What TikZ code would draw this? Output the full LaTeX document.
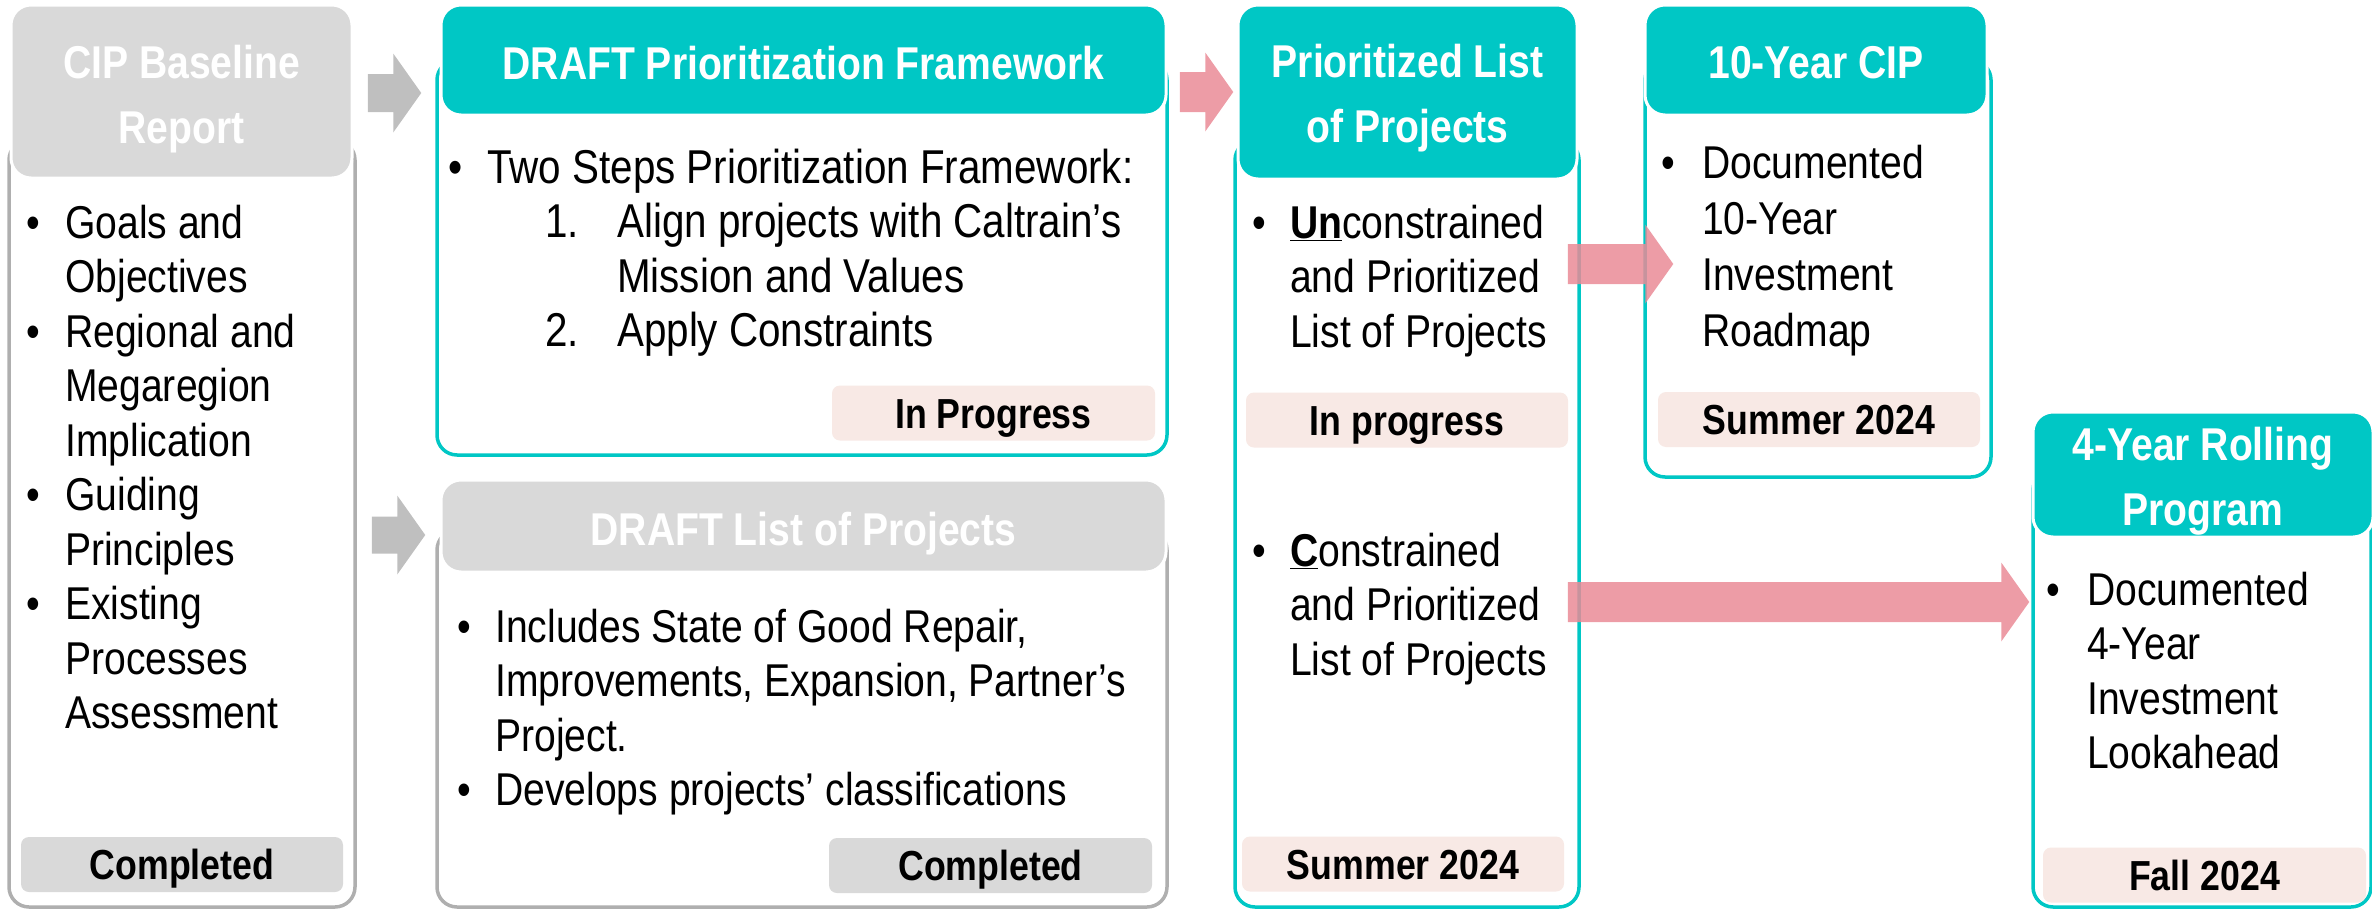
\documentclass[tikz,border=0pt]{standalone}
\usepackage{fontspec}
\setmainfont[FakeStretch=0.85]{Liberation Sans}
\usepackage{tikz}
\usetikzlibrary{positioning}
\usetikzlibrary{calc}
\usepackage{xcolor}

\definecolor{cipteal}{RGB}{0,199,197}
\definecolor{hdgray}{RGB}{217,217,217}
\definecolor{edgegray}{RGB}{175,175,175}
\definecolor{statpink}{RGB}{248,233,229}
\definecolor{flowpink}{RGB}{234,139,151}
\definecolor{flowgray}{RGB}{191,191,191}

\newcommand{\bul}[1][39pt]{\makebox[#1][l]{•}}
\newcommand{\ind}[1][39pt]{\hspace*{#1}}
% block arrow: style, start, tip, half shaft
\newcommand{\flow}[4]{%
    \fill[#1] ($(#2)+(0,-#4)$) -- ($(#3)+(-28,-#4)$) -- ($(#3)+(-28,-39.5)$) -- (#3)
        -- ($(#3)+(-28,39.5)$) -- ($(#3)+(-28,#4)$) -- ($(#2)+(0,#4)$) -- cycle;}

\begin{document}
\begin{tikzpicture}[x=1pt, y=-1pt,
    outline/.style={rounded corners=20pt, line width=3.5pt, fill=white, inner sep=0pt},
    hdr/.style={rounded corners=20pt, draw=white, line width=3pt, inner sep=0pt},
    ttl/.style={anchor=base, inner sep=0pt, text=white, font=\fontsize{46}{65}\selectfont\bfseries},
    body/.style={anchor=base west, inner sep=0pt, font=\fontsize{46}{54.5}\selectfont},
    status/.style={rounded corners=8pt, inner sep=0pt, minimum width=322pt, minimum height=55pt,
        text height=30pt, text depth=0pt, font=\fontsize{42}{50}\selectfont\bfseries},
    pinkflow/.style={fill=flowpink, opacity=0.85},
    grayflow/.style={fill=flowgray}]
    \useasboundingbox (0,0) rectangle (2372,910);

    % CIP baseline report
    \node[outline, draw=edgegray, minimum width=346pt, minimum height=767pt] (abox) at (182,523.5) {};
    \node[hdr, fill=hdgray, minimum width=341pt, minimum height=173pt] (ahead) at (181.5,91.5) {};
    \node[ttl] (atitle) at (181.5,78) {\begin{tabular}[t]{@{}c@{}}CIP Baseline\\Report\end{tabular}};
    \node[body] (atext) at (26,238) {\begin{tabular}[t]{@{}l@{}}
        \bul Goals and\\ \ind Objectives\\
        \bul Regional and\\ \ind Megaregion\\ \ind Implication\\
        \bul Guiding\\ \ind Principles\\
        \bul Existing\\ \ind Processes\\ \ind Assessment
    \end{tabular}};
    \node[status, fill=hdgray] (astat) at (182,864.5) {Completed};

    % DRAFT prioritization framework
    \node[outline, draw=cipteal, minimum width=730pt, minimum height=395pt] (bbox) at (802,257.5) {};
    \node[hdr, fill=cipteal, minimum width=725pt, minimum height=110pt] (bhead) at (803.5,60) {};
    \node[ttl] (btitle) at (803.5,79) {DRAFT Prioritization Framework};
    \node[body, font=\fontsize{47.5}{54.5}\selectfont] (btext) at (448,183) {\begin{tabular}[t]{@{}l@{}}
        \bul Two Steps Prioritization Framework:\\
        \ind\hspace*{58pt}\makebox[72pt][l]{1.}Align projects with Caltrain’s\\
        \ind\hspace*{130pt}Mission and Values\\
        \ind\hspace*{58pt}\makebox[72pt][l]{2.}Apply Constraints
    \end{tabular}};
    \node[status, fill=statpink, minimum width=323pt] (bstat) at (993.5,413) {In Progress};

    % DRAFT list of projects
    \node[outline, draw=edgegray, minimum width=730pt, minimum height=377pt] (cbox) at (802,718.5) {};
    \node[hdr, fill=hdgray, minimum width=725pt, minimum height=92pt] (chead) at (803.5,526) {};
    \node[ttl] (ctitle) at (803.5,545) {DRAFT List of Projects};
    \node[body] (ctext) at (457,642) {\begin{tabular}[t]{@{}l@{}}
        \bul[38pt]Includes State of Good Repair,\\
        \ind[38pt]Improvements, Expansion, Partner’s\\
        \ind[38pt]Project.\\
        \bul[38pt]Develops projects’ classifications
    \end{tabular}};
    \node[status, fill=hdgray, minimum width=323pt] (cstat) at (990.5,865.5) {Completed};

    % prioritized list of projects
    \node[outline, draw=cipteal, minimum width=344pt, minimum height=767pt] (dbox) at (1407,523.5) {};
    \node[hdr, fill=cipteal, minimum width=339pt, minimum height=174pt] (dhead) at (1407.5,92) {};
    \node[ttl] (dtitle) at (1407.5,77) {\begin{tabular}[t]{@{}c@{}}Prioritized List\\of Projects\end{tabular}};
    \node[body] (dtext) at (1252,238) {\begin{tabular}[t]{@{}l@{}}
        \bul[38pt]\underline{\textbf{Un}}constrained\\
        \ind[38pt]and Prioritized\\
        \ind[38pt]List of Projects
    \end{tabular}};
    \node[status, fill=statpink] (dstat) at (1407,420) {In progress};
    \node[body] (dtextb) at (1252,566) {\begin{tabular}[t]{@{}l@{}}
        \bul[38pt]\underline{\textbf{C}}onstrained\\
        \ind[38pt]and Prioritized\\
        \ind[38pt]List of Projects
    \end{tabular}};
    \node[status, fill=statpink] (dstatb) at (1403,864) {Summer 2024};

    % 10-year CIP
    \node[outline, draw=cipteal, minimum width=346pt, minimum height=417pt] (ebox) at (1818,268.5) {};
    \node[hdr, fill=cipteal, minimum width=342pt, minimum height=110pt] (ehead) at (1816,60) {};
    \node[ttl] (etitle) at (1816,78) {10-Year CIP};
    \node[body, font=\fontsize{46}{56}\selectfont] (etext) at (1661,178) {\begin{tabular}[t]{@{}l@{}}
        \bul[41pt]Documented\\ \ind[41pt]10-Year\\ \ind[41pt]Investment\\ \ind[41pt]Roadmap
    \end{tabular}};
    \node[status, fill=statpink] (estat) at (1819,419.5) {Summer 2024};

    % 4-year rolling program
    \node[outline, draw=cipteal, minimum width=338pt, minimum height=437pt] (fbox) at (2202,688.5) {};
    \node[hdr, fill=cipteal, minimum width=340pt, minimum height=125pt] (fhead) at (2203,474.5) {};
    \node[ttl] (ftitle) at (2203,460) {\begin{tabular}[t]{@{}c@{}}4-Year Rolling\\Program\end{tabular}};
    \node[body] (ftext) at (2046,605) {\begin{tabular}[t]{@{}l@{}}
        \bul[41pt]Documented\\ \ind[41pt]4-Year\\ \ind[41pt]Investment\\ \ind[41pt]Lookahead
    \end{tabular}};
    \node[status, fill=statpink, minimum width=323pt] (fstat) at (2204.5,875) {Fall 2024};

    % flow arrows
    \coordinate (rowa) at (0,93);
    \coordinate (rowb) at (0,535);
    \coordinate (rowc) at (0,264);
    \coordinate (rowd) at (0,602);
    \path (abox.east |- rowa) ++(11,0) coordinate (gas);
    \path (bbox.west |- rowa) ++(-14,0) coordinate (gae);
    \path (abox.east |- rowb) ++(15,0) coordinate (gbs);
    \path (cbox.west |- rowb) ++(-10,0) coordinate (gbe);
    \path (bbox.east |- rowa) ++(11,-1) coordinate (pas);
    \path (dbox.west |- rowa) ++(0,-1) coordinate (pae);
    \path (dbox.east |- rowc) ++(-13,0) coordinate (pbs);
    \path (ebox.west |- rowc) ++(30,0) coordinate (pbe);
    \path (dbox.east |- rowd) ++(-13,0) coordinate (pcs);
    \path (fbox.west |- rowd) ++(-2,0) coordinate (pce);
    \flow{grayflow}{gas}{gae}{19}
    \flow{grayflow}{gbs}{gbe}{18.5}
    \flow{pinkflow}{pas}{pae}{20}
    \flow{pinkflow}{pbs}{pbe}{20}
    \flow{pinkflow}{pcs}{pce}{20}
\end{tikzpicture}
\end{document}
